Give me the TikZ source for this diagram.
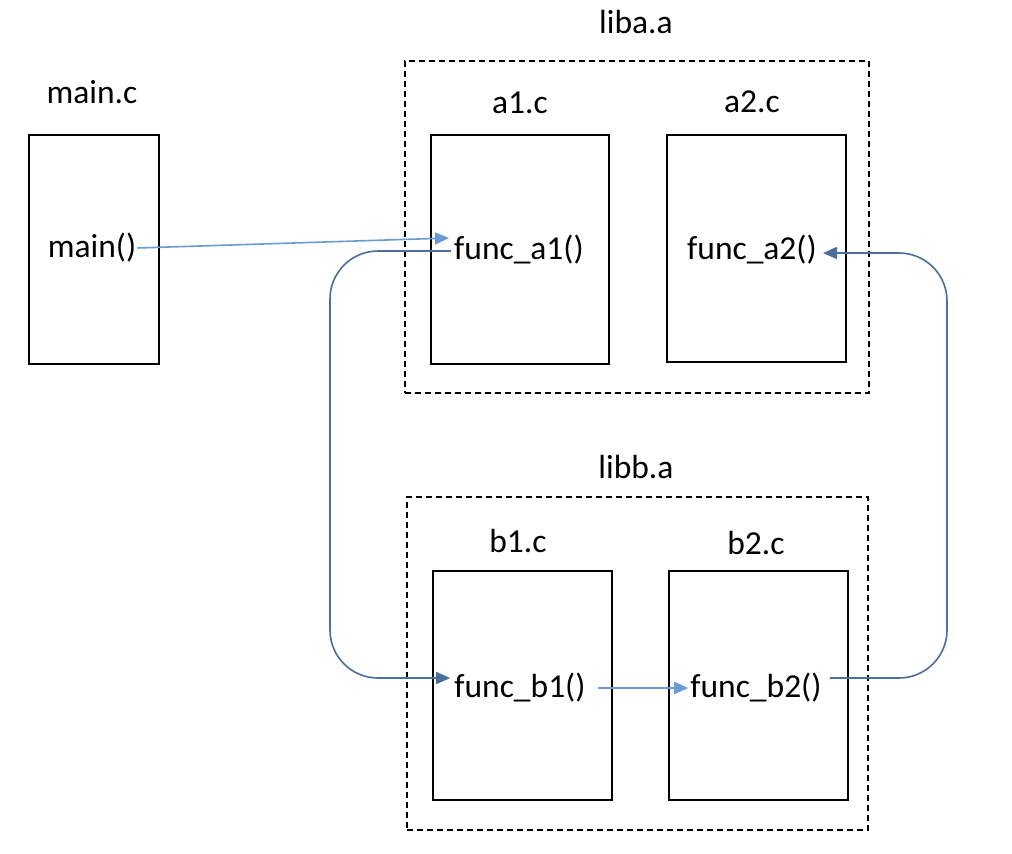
\documentclass[tikz,border=0pt]{standalone}
\usepackage{fontspec}
\setmainfont{Carlito}
\usetikzlibrary{arrows.meta,calc}
\definecolor{lightarr}{HTML}{6A9BD3}
\definecolor{darkarr}{HTML}{4C6E9C}
\tikzset{
  filebox/.style={draw=black,line width=1.8pt,minimum width=#1,inner sep=0pt},
  libbox/.style={draw=black,line width=1.6pt,dash pattern=on 6pt off 4pt,inner sep=0pt},
  lbl/.style={inner sep=0pt,font=\fontsize{33.5}{38}\selectfont},
  fn/.style={inner sep=0pt,font=\fontsize{33.5}{38}\selectfont},
  callarr/.style={draw=lightarr,line width=1.6pt,-{Triangle[length=14pt,width=12pt]}},
  looparr/.style={draw=darkarr,line width=1.6pt,rounded corners=48pt,-{Triangle[length=14pt,width=12pt]}},
}
\begin{document}
\begin{tikzpicture}[x=1pt,y=-1pt]
\useasboundingbox (0,0) rectangle (1012,854);
% library boxes
\node[libbox,minimum width=464pt,minimum height=332pt] (liba) at (637,227) {};
\node[libbox,minimum width=461pt,minimum height=333pt] (libb) at (637.5,663.5) {};
% file boxes
\node[filebox=130pt,minimum height=229pt] (mainbox) at (94,249.5) {};
\node[filebox=178pt,minimum height=229pt] (a1box) at (520,249.5) {};
\node[filebox=179pt,minimum height=227pt] (a2box) at (756.5,248.5) {};
\node[filebox=179pt,minimum height=229pt] (b1box) at (522.5,685.5) {};
\node[filebox=179pt,minimum height=229pt] (b2box) at (758.5,685.5) {};
% labels
\node[lbl] (mainlbl) at (92,92) {main.c};
\node[lbl] (libalbl) at (636,22) {liba.a};
\node[lbl] (a1lbl) at (520,103) {a1.c};
\node[lbl] (a2lbl) at (752,102) {a2.c};
\node[lbl] (libblbl) at (636,467) {libb.a};
\node[lbl] (b1lbl) at (518,541) {b1.c};
\node[lbl] (b2lbl) at (756,543) {b2.c};
% functions
\node[fn] (mainf) at (92,248) {main()};
\node[fn] (fa1) at (519,250) {func\_a1()};
\node[fn] (fa2) at (752,250) {func\_a2()};
\node[fn] (fb1) at (520,688) {func\_b1()};
\node[fn] (fb2) at (756,688) {func\_b2()};
% connectors
\draw[callarr] ([xshift=1pt]mainf.east) -- ([xshift=-5pt,yshift=12pt]fa1.west);
\draw[looparr] ([xshift=-3pt,yshift=-1pt]fa1.west) -- (330,251) -- (330,678) -- ([xshift=-4pt,yshift=10pt]fb1.west);
\draw[callarr] ([xshift=12pt]fb1.east) -- ([xshift=-2pt]fb2.west);
\draw[looparr] ([xshift=8pt,yshift=10pt]fb2.east) -- (947,678) -- (947,253) -- ([xshift=6pt,yshift=-3pt]fa2.east);
\end{tikzpicture}
\end{document}
